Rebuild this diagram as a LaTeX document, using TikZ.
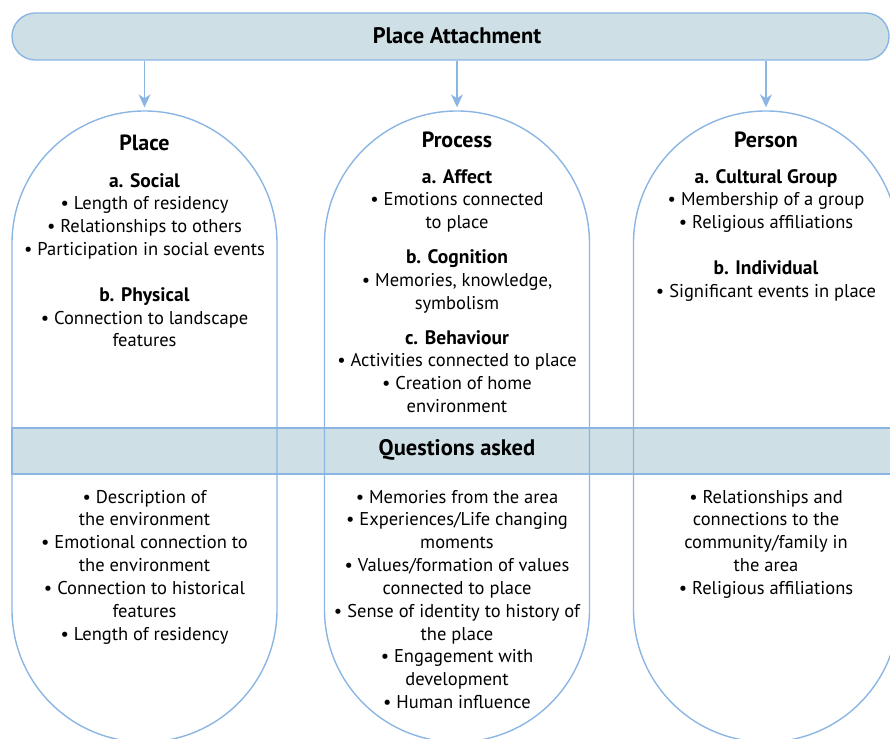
\documentclass[tikz,border=0pt]{standalone}
\usepackage{fontspec}
\setmainfont{PT Sans}
\usetikzlibrary{arrows.meta}
\definecolor{lineblue}{HTML}{8BB6E4}
\definecolor{bandfill}{HTML}{CEDFE6}
\newcommand\myhead[1]{{\fontsize{19.5}{22.85}\selectfont\bfseries #1}}
\newenvironment{lines}{\begin{tabular}[t]{@{}c@{}}}{\end{tabular}}
\begin{document}
\begin{tikzpicture}[x=1pt,y=-1pt,
  col/.style={draw=lineblue,line width=1.4pt,minimum width=265pt,minimum height=631pt,rounded corners=132.4pt,inner sep=0pt},
  bandbox/.style={draw=lineblue,fill=bandfill,line width=1.4pt,minimum width=890pt,minimum height=46pt,inner sep=0pt},
  barbox/.style={draw=lineblue,fill=bandfill,line width=1.4pt,minimum width=877pt,minimum height=47pt,rounded corners=23.4pt,inner sep=0pt},
  conn/.style={draw=lineblue,line width=1.4pt,-{Stealth[length=13pt,width=12pt,inset=4pt]}},
  heading/.style={font=\bfseries\fontsize{22}{26}\selectfont,anchor=base,inner sep=0pt},
  body/.style={font=\fontsize{18.5}{22.85}\selectfont,anchor=base,inner sep=0pt},
]
\useasboundingbox (0,0) rectangle (890,738);
% top bar
\node[barbox] (bar) at (450.5,36.5) {};
\node[heading,font=\bfseries\fontsize{22.5}{26}\selectfont] (bartitle) at (457,44) {Place Attachment};
% band
\node[bandbox] (band) at (457,451) {};
\node[heading,font=\bfseries\fontsize{22.5}{26}\selectfont] (bandtitle) at (457,455) {Questions asked};
% columns
\node[col] (place) at (144.5,426.5) {};
\node[col] (process) at (457,426.5) {};
\node[col] (person) at (766,426.5) {};
% arrows
\draw[conn] (bar.south -| place.north) -- ([yshift=3pt]place.north);
\draw[conn] (bar.south -| process.north) -- ([yshift=3pt]process.north);
\draw[conn] (bar.south -| person.north) -- ([yshift=3pt]person.north);
% titles
\node[heading] (placetitle) at (144.5,151) {Place};
\node[heading] (processtitle) at (457,148) {Process};
\node[heading] (persontitle) at (766,148) {Person};
% top texts
\node[body] (placetop) at (144.5,187) {\begin{lines}\myhead{a. Social}\\ • Length of residency\\ • Relationships to others\\ • Participation in social events\\[22.85pt] \myhead{b. Physical}\\ • Connection to landscape\\ features\end{lines}};
\node[body] (processtop) at (457,183) {\begin{lines}\myhead{a. Affect}\\ • Emotions connected\\ to place\\[12pt] \myhead{b. Cognition}\\ • Memories, knowledge,\\ symbolism\\[12pt] \myhead{c. Behaviour}\\ • Activities connected to place\\ • Creation of home\\ environment\end{lines}};
\node[body] (persontop) at (766,183) {\begin{lines}\myhead{a. Cultural Group}\\ • Membership of a group\\ • Religious affiliations\\[22.85pt] \myhead{b. Individual}\\ • Significant events in place\end{lines}};
% bottom texts
\node[body] (placebot) at (144.5,503) {\begin{lines}• Description of\\ the environment\\ • Emotional connection to\\ the environment\\ • Connection to historical\\ features\\ • Length of residency\end{lines}};
\node[body] (processbot) at (457,503) {\begin{lines}• Memories from the area\\ • Experiences/Life changing\\ moments\\ • Values/formation of values\\ connected to place\\ • Sense of identity to history of\\ the place\\ • Engagement with\\ development\\ • Human influence\end{lines}};
\node[body] (personbot) at (766,503) {\begin{lines}• Relationships and\\ connections to the\\ community/family in\\ the area\\ • Religious affiliations\end{lines}};
\end{tikzpicture}
\end{document}
